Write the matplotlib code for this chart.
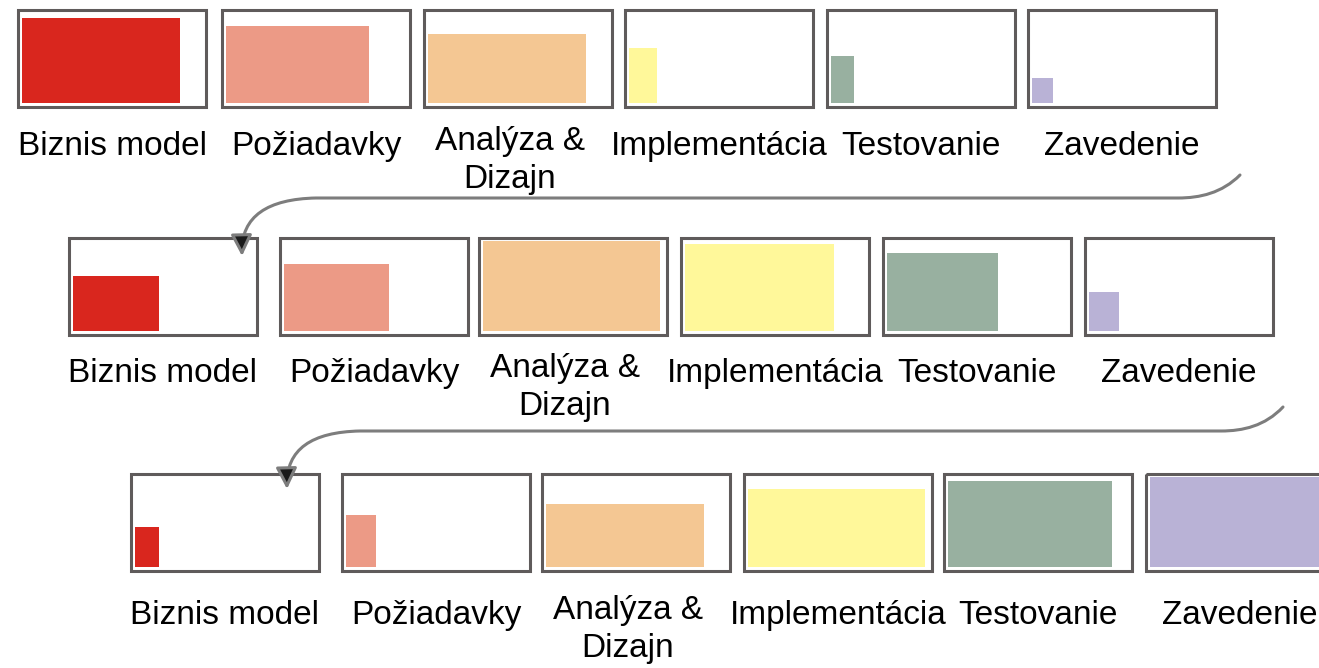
import numpy as np
import matplotlib.pyplot as plt
from matplotlib.patches import Rectangle, FancyArrowPatch
from matplotlib.path import Path

plt.rcParams['font.family'] = ['Liberation Sans', 'DejaVu Sans']

# phases (same in every iteration)
phases = ['Biznis model', 'Požiadavky', 'Analýza &\nDizajn',
          'Implementácia', 'Testovanie', 'Zavedenie']
colors = ['#d9261e', '#ec9a86', '#f4c793', '#fff89a', '#98b0a0', '#b9b2d6']

# effort per phase in each iteration: width and height share of the box
width_share = [
    [0.84, 0.76, 0.84, 0.15, 0.12, 0.11],
    [0.46, 0.56, 0.94, 0.79, 0.59, 0.16],
    [0.13, 0.16, 0.84, 0.94, 0.87, 0.98],
]
height_share = [
    [0.88, 0.79, 0.71, 0.57, 0.48, 0.26],
    [0.57, 0.69, 0.93, 0.90, 0.80, 0.40],
    [0.41, 0.54, 0.65, 0.80, 0.89, 0.93],
]

# layout in pixels (image coordinates, y downward)
box_left = [
    [18, 222, 424, 625, 827, 1028],
    [69, 280, 479, 681, 883, 1085],
    [131, 342, 542, 744, 944, 1146],
]
box_top = [10, 238, 474]
box_w, box_h = 188, 97
label_base = [155, 382, 624]
line_gap = 38

fig = plt.figure(figsize=(13.19, 6.68), dpi=100)
ax = fig.add_axes([0, 0, 1, 1])
ax.set_xlim(0, 1319)
ax.set_ylim(668, 0)
ax.axis('off')

for r in range(3):
    for i, name in enumerate(phases):
        x0 = box_left[r][i]
        y0 = box_top[r]
        fw = width_share[r][i] * box_w
        fh = height_share[r][i] * box_h
        ax.add_patch(Rectangle((x0 + 4, y0 + box_h - 4 - fh), fw, fh,
                               facecolor=colors[i], edgecolor='none', zorder=2))
        ax.add_patch(Rectangle((x0, y0), box_w, box_h, fill=False,
                               edgecolor='#5f5b5b', lw=2.2, zorder=3))
        lines = name.split('\n')
        base = label_base[r] - (5 if len(lines) > 1 else 0)
        for k, txt in enumerate(lines):
            ax.text(x0 + box_w / 2 - (8 if len(lines) > 1 else 0),
                    base + k * line_gap, txt, ha='center',
                    va='baseline', fontsize=24, color='black')

# arrows from end of one iteration to start of the next
def arrow(x_end, y_end, y_line, x_left, x_tip, y_tip):
    verts = [(x_end, y_end), (x_end - 18, y_line - 5), (x_end - 40, y_line),
             (x_end - 62, y_line),
             (x_left, y_line),
             (x_left - 48, y_line + 1), (x_tip - 1, y_line + 18), (x_tip, y_tip)]
    codes = [Path.MOVETO, Path.CURVE4, Path.CURVE4, Path.CURVE4,
             Path.LINETO,
             Path.CURVE4, Path.CURVE4, Path.CURVE4]
    p = FancyArrowPatch(path=Path(verts, codes), arrowstyle='-|>',
                        mutation_scale=32, shrinkA=0, shrinkB=0,
                        edgecolor='#7d7d7d', facecolor='#1a1a1a', lw=2.2,
                        zorder=4)
    ax.add_patch(p)

arrow(1240, 175, 198, 316, 242, 256)
arrow(1283, 407, 431, 360, 287, 489)

plt.savefig('out.png', dpi=100)
